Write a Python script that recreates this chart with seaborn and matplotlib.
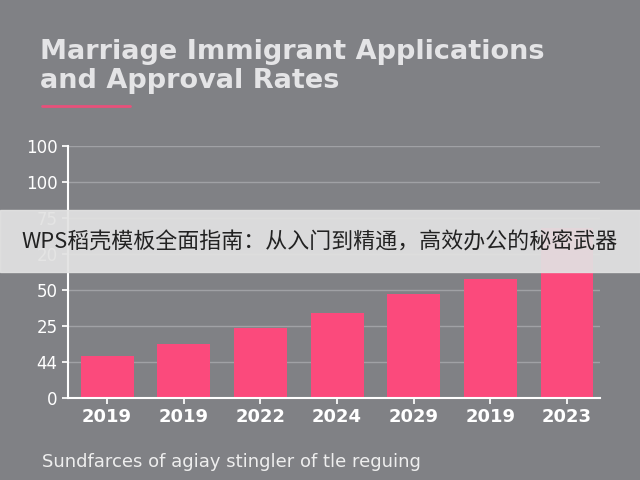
import matplotlib
matplotlib.use("Agg")
import matplotlib.pyplot as plt
import seaborn as sns
import pandas as pd

years = ["2019", "2019", "2022", "2024", "2029", "2019", "2023"]
values = [1.17, 1.5, 1.94, 2.36, 2.89, 3.31, 4.72]
tick_labels = ["0", "44", "25", "50", "20", "75", "100", "100"]

sns.set_theme(style="dark")
plt.rcParams['font.family'] = ['Noto Sans CJK SC', 'DejaVu Sans']
bg = "#808185"
fig = plt.figure(figsize=(6.4, 4.8), dpi=100, facecolor=bg)
ax = fig.add_axes([68/640, 1-398/480, 532/640, 252/480])
ax.set_facecolor(bg)
df = pd.DataFrame({"x": range(len(years)), "v": values})
sns.barplot(data=df, x="x", y="v", color="#fb4a7c", saturation=1, width=0.69, edgecolor="none", linewidth=0, ax=ax)
ax.set_xticks(range(len(years)))
ax.set_xticklabels(years, color="white", fontsize=13, fontweight="bold", family="DejaVu Sans")
ax.set_ylim(0, 7)
ax.set_yticks(range(8))
ax.set_yticklabels(tick_labels, color="white", fontsize=12, family="DejaVu Sans")
ax.grid(axis="y", color="#a0a1a5", lw=1)
ax.set_axisbelow(True)
ax.set_xlabel(""); ax.set_ylabel("")
for s in ["top", "right"]:
    ax.spines[s].set_visible(False)
for s in ["left", "bottom"]:
    ax.spines[s].set_color("white"); ax.spines[s].set_linewidth(1.5)
ax.tick_params(axis="both", colors="white", length=4, left=True, bottom=True)
ax.set_xlim(-0.51, 6.43)

fig.text(40/640, 1-52/480, "Marriage Immigrant Applications", fontsize=19.5, fontweight="bold", color="#e4e4e6", va="center", family="DejaVu Sans")
fig.text(40/640, 1-81/480, "and Approval Rates", fontsize=19.5, fontweight="bold", color="#e4e4e6", va="center", family="DejaVu Sans")
fig.add_artist(plt.Line2D([42/640, 130/640], [1-106/480]*2, color="#e8507a", lw=2))
fig.text(42/640, 1-462/480, "Sundfarces of agiay stingler of tle reguing", fontsize=13, color="#eeeeee", va="center", family="DejaVu Sans")

fig.add_artist(plt.Rectangle((0, 1-272/480), 1, 62/480, transform=fig.transFigure, color="#e2e2e2", alpha=0.93, zorder=10))
fig.text(0.5, 1-243/480, "WPS稻壳模板全面指南：从入门到精通，高效办公的秘密武器", fontsize=15.8, color="#222222", ha="center", va="center", zorder=11)
fig.savefig("out.png", dpi=100, facecolor=bg)
